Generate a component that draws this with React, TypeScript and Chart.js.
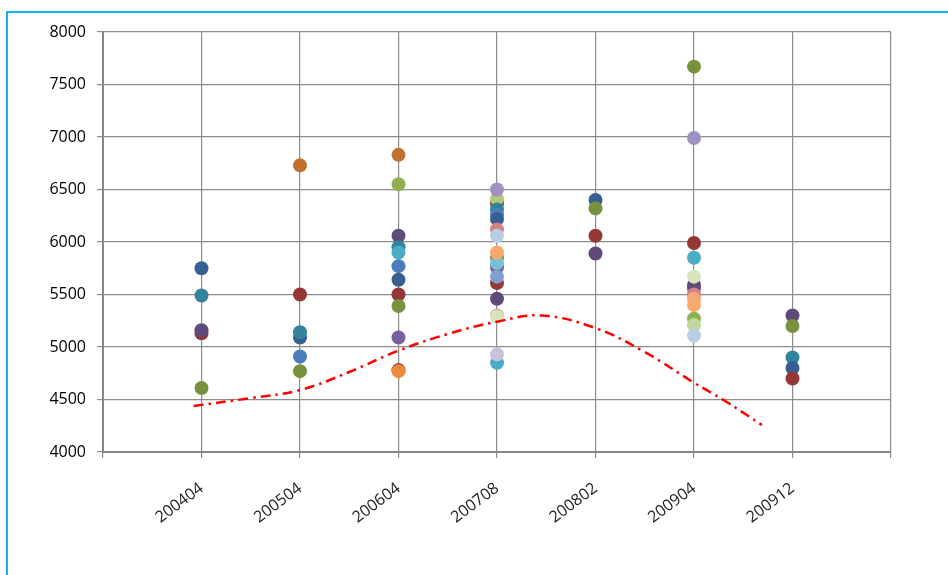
import React, { useEffect, useRef } from "react";
import { Chart, registerables } from "chart.js";

Chart.register(...registerables);

const categories = ["200404", "200504", "200604", "200708", "200802", "200904", "200912"];

const yTicks = { min: 4000, max: 8000, step: 500 };

// values per category, with point colours
const values200404 = [5750, 5490, 5130, 5160, 4610];
const colors200404 = ["#376092", "#31849B", "#953735", "#604A7B", "#76923C"];

const values200504 = [6730, 5500, 5090, 5140, 4910, 4770];
const colors200504 = ["#C0712E", "#953735", "#376092", "#31849B", "#4A7EBB", "#76923C"];

const values200604 = [6830, 6550, 6060, 5950, 5900, 5770, 5640, 5500, 5390, 5090, 4780, 4770];
const colors200604 = ["#C0712E", "#8EB04F", "#604A7B", "#31849B", "#4BACC6", "#4A7EBB", "#376092", "#953735", "#76923C", "#7A5FA0", "#953735", "#EE8A3E"];

const values200708 = [6370, 6410, 6500, 6310, 6260, 6220, 6120, 6060, 5850, 5760, 5800, 5900, 5610, 5670, 5460, 5300, 5290, 4850, 4930];
const colors200708 = ["#953735", "#AFC97A", "#A091C4", "#31849B", "#4A7EBB", "#376092", "#D08382", "#B9CDE5", "#76923C", "#7A5FA0", "#78BFD3", "#F8A96B", "#953735", "#7F9FCF", "#604A7B", "#D99694", "#D7E4BD", "#4BACC6", "#CCC1DA"];

const values200802 = [6400, 6320, 6060, 5890];
const colors200802 = ["#376092", "#76923C", "#953735", "#604A7B"];

const values200904 = [7670, 6990, 5990, 5850, 5560, 5590, 5670, 5500, 5460, 5400, 5270, 5210, 5110];
const colors200904 = ["#76923C", "#A091C4", "#953735", "#4BACC6", "#7A5FA0", "#604A7B", "#D7E4BD", "#D08382", "#F2A97A", "#F8A96B", "#8EB04F", "#C3D69B", "#B9CDE5"];

const values200912 = [5300, 5200, 4900, 4800, 4700];
const colors200912 = ["#604A7B", "#76923C", "#31849B", "#376092", "#953735"];

const trendX = [0.92, 1.5, 2, 2.5, 3, 3.5, 4, 4.45, 5, 5.5, 6, 6.3, 6.69];
const trendY = [4438, 4514, 4590, 4762, 4965, 5124, 5241, 5300, 5180, 4952, 4660, 4495, 4257];

const columns = [
  { values: values200404, colors: colors200404 },
  { values: values200504, colors: colors200504 },
  { values: values200604, colors: colors200604 },
  { values: values200708, colors: colors200708 },
  { values: values200802, colors: colors200802 },
  { values: values200904, colors: colors200904 },
  { values: values200912, colors: colors200912 },
];

export default function App() {
  const ref = useRef<HTMLCanvasElement | null>(null);

  useEffect(() => {
    if (!ref.current) return;
    const datasets: any[] = columns.map((c, i) => ({
      type: "scatter",
      label: categories[i],
      data: c.values.map((v) => ({ x: i + 1, y: v })),
      pointBackgroundColor: c.colors,
      pointBorderColor: c.colors,
      pointBorderWidth: 0,
      pointRadius: 7,
      showLine: false,
      order: 1,
    }));
    datasets.push({
      type: "line",
      label: "trend",
      data: trendX.map((x, i) => ({ x, y: trendY[i] })),
      borderColor: "#FF0000",
      borderWidth: 2.5,
      borderDash: [10, 5, 2.5, 5],
      pointRadius: 0,
      tension: 0.4,
      fill: false,
      order: 0,
    });

    const chart = new Chart(ref.current, {
      type: "scatter",
      data: { datasets },
      options: {
        animation: false,
        responsive: false,
        layout: { padding: { left: 0, top: 32, right: 57, bottom: 0 } },
        plugins: { legend: { display: false }, tooltip: { enabled: false } },
        scales: {
          x: {
            type: "linear",
            min: 0,
            max: 8,
            afterFit: (s: any) => {
              s.height = 123;
            },
            ticks: {
              stepSize: 1,
              autoSkip: false,
              minRotation: 37,
              maxRotation: 37,
              padding: 21,
              color: "#1a1a1a",
              font: { family: "Open Sans", size: 16 },
              callback: (v: any) => categories[Number(v) - 1] ?? "",
            },
            grid: { color: "#8C8C8C", lineWidth: 1.2, tickLength: 6 },
            border: { color: "#868686", width: 2 },
          },
          y: {
            min: yTicks.min,
            max: yTicks.max,
            afterFit: (s: any) => {
              s.width = 103;
            },
            ticks: {
              stepSize: yTicks.step,
              padding: 11,
              color: "#000000",
              font: { family: "Open Sans", size: 16 },
              callback: (v: any) => String(v),
            },
            grid: { color: "#8C8C8C", lineWidth: 1.2, tickLength: 6 },
            border: { color: "#868686", width: 2 },
          },
        },
      },
    });
    return () => chart.destroy();
  }, []);

  return (
    <div style={{ position: "absolute", left: 0, top: 0, width: 948, height: 575, background: "#fff", overflow: "hidden" }}>
      <canvas ref={ref} width={948} height={575} style={{ position: "absolute", left: 0, top: 0 }} />
      <div
        style={{
          position: "absolute",
          left: 6,
          top: 11,
          width: 960,
          height: 600,
          borderLeft: "2px solid #14B4EA",
          borderTop: "2px solid #14B4EA",
          pointerEvents: "none",
        }}
      />
    </div>
  );
}
